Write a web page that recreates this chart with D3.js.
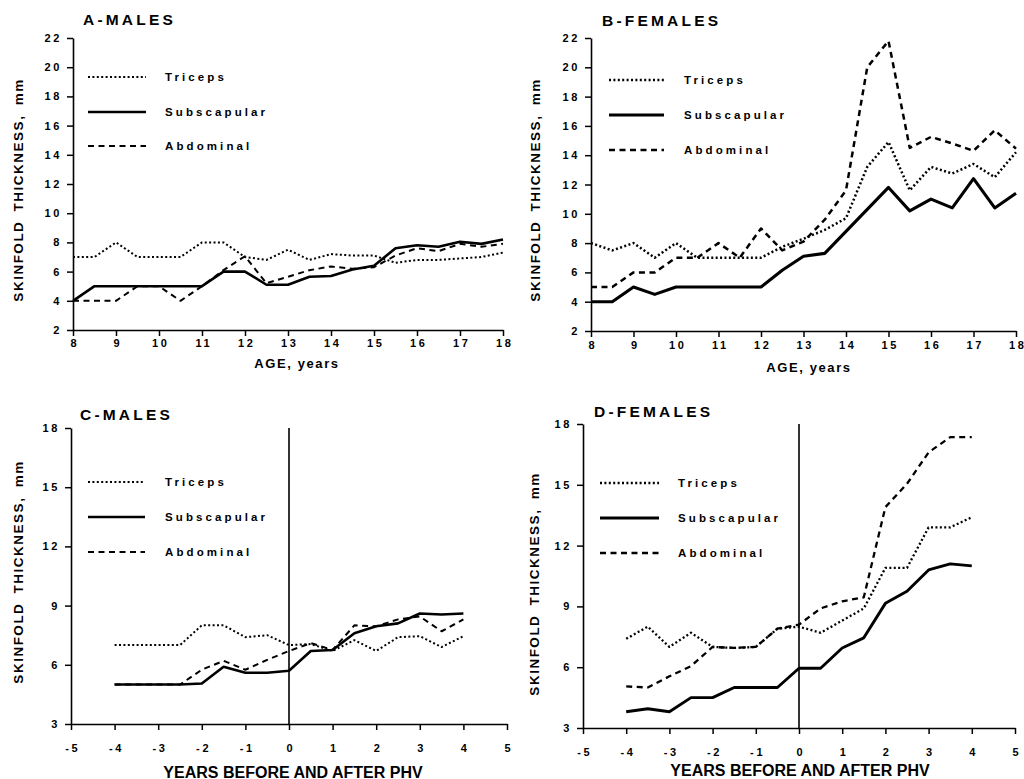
<!DOCTYPE html>
<html>
<head>
<meta charset="utf-8">
<script src="https://cdn.jsdelivr.net/npm/d3@7"></script>
<style>
  body { margin: 0; background: #fff; }
  svg { display: block; font-family: "Liberation Sans", Arial, sans-serif; font-weight: bold; }
</style>
</head>
<body>
<svg id="chart" width="1024" height="779"></svg>
<script>
// x positions (half-year steps)
const ageYears = [8, 8.5, 9, 9.5, 10, 10.5, 11, 11.5, 12, 12.5, 13, 13.5, 14, 14.5, 15, 15.5, 16, 16.5, 17, 17.5, 18];
const phvYears = [-4, -3.5, -3, -2.5, -2, -1.5, -1, -0.5, 0, 0.5, 1, 1.5, 2, 2.5, 3, 3.5, 4];

// A - males by age
const maleAgeTriceps   = [7, 7, 8, 7, 7, 7, 8, 8, 7, 6.8, 7.5, 6.8, 7.2, 7.1, 7.1, 6.6, 6.8, 6.8, 6.9, 7.0, 7.3];
const maleAgeSubscap   = [4, 5, 5, 5, 5, 5, 5, 6, 6, 5.1, 5.1, 5.65, 5.7, 6.15, 6.4, 7.6, 7.8, 7.7, 8.05, 7.9, 8.2];
const maleAgeAbdominal = [4, 4, 4, 5, 5, 4, 5, 6.1, 7.05, 5.2, 5.65, 6.1, 6.35, 6.2, 6.3, 7.1, 7.6, 7.4, 7.9, 7.7, 7.9];

// B - females by age
const femaleAgeTriceps   = [8, 7.5, 8, 7, 8, 7, 7, 7, 7, 7.75, 8.3, 8.9, 9.7, 13.2, 14.9, 11.6, 13.2, 12.75, 13.4, 12.5, 14.2];
const femaleAgeSubscap   = [4, 4, 5, 4.5, 5, 5, 5, 5, 5, 6.15, 7.1, 7.3, 8.8, 10.3, 11.8, 10.2, 11, 10.4, 12.4, 10.4, 11.4];
const femaleAgeAbdominal = [5, 5, 6, 6, 7, 7, 8, 7, 9, 7.5, 8.1, 9.6, 11.6, 20, 21.8, 14.5, 15.25, 14.8, 14.3, 15.7, 14.45];

// C - males by years from PHV
const malePhvTriceps   = [7, 7, 7, 7, 8, 8, 7.4, 7.5, 7.0, 7.05, 6.7, 7.25, 6.7, 7.4, 7.45, 6.9, 7.45];
const malePhvSubscap   = [5, 5, 5, 5, 5.05, 5.9, 5.6, 5.6, 5.7, 6.7, 6.75, 7.6, 7.95, 8.1, 8.6, 8.55, 8.6];
const malePhvAbdominal = [5, 5, 5, 5, 5.75, 6.2, 5.75, 6.25, 6.7, 7.1, 6.75, 8.0, 7.95, 8.3, 8.45, 7.7, 8.3];

// D - females by years from PHV
const femalePhvTriceps   = [7.4, 8.0, 7.0, 7.7, 7.0, 6.95, 7.0, 7.9, 8.0, 7.7, 8.3, 8.9, 10.9, 10.9, 12.9, 12.9, 13.4];
const femalePhvSubscap   = [3.8, 3.95, 3.8, 4.5, 4.5, 5, 5, 5, 5.95, 5.95, 6.95, 7.45, 9.15, 9.75, 10.8, 11.1, 11.0];
const femalePhvAbdominal = [5.05, 5.0, 5.55, 6.05, 7.0, 6.95, 7.0, 7.9, 8.1, 8.9, 9.25, 9.45, 13.9, 15.05, 16.6, 17.35, 17.35];

// tick labels
const ageXTicks = [8, 9, 10, 11, 12, 13, 14, 15, 16, 17, 18];
const ageYTicks = [2, 4, 6, 8, 10, 12, 14, 16, 18, 20, 22];
const phvXTicks = [-5, -4, -3, -2, -1, 0, 1, 2, 3, 4, 5];
const phvYTicks = [3, 6, 9, 12, 15, 18];

const seriesNames = ["Triceps", "Subscapular", "Abdominal"];
const yTitle = "SKINFOLD THICKNESS, mm";

const svg = d3.select("#chart");

const styles = {
    "Triceps":     {dash: "2,2.4", width: 2},
    "Subscapular": {dash: null, width: 2.6},
    "Abdominal":   {dash: "6,4.5", width: 2}
};

const panels = [
    {title: "A-MALES", x: ageYears, xDomain: [8, 18], yDomain: [2, 22], xRange: [73, 503], yRange: [330, 38],
     xTicks: ageXTicks, yTicks: ageYTicks, xLabel: "AGE,  years", xLabelSize: 13,
     series: [maleAgeTriceps, maleAgeSubscap, maleAgeAbdominal],
     titlePos: [83, 25], xTickY: 13, xLabelPos: [297, 368], yLabelPos: [23, 190],
     legend: {x1: 88, x2: 146, tx: 165, ys: [77, 112, 146]}, boost: 0},
    {title: "B-FEMALES", x: ageYears, xDomain: [8, 18], yDomain: [2, 22], xRange: [591, 1016], yRange: [331, 38],
     xTicks: ageXTicks, yTicks: ageYTicks, xLabel: "AGE,  years", xLabelSize: 13,
     series: [femaleAgeTriceps, femaleAgeSubscap, femaleAgeAbdominal],
     titlePos: [602, 26], xTickY: 14, xLabelPos: [809, 372], yLabelPos: [540, 190],
     legend: {x1: 609, x2: 664, tx: 684, ys: [80, 115, 150]}, boost: 0.5},
    {title: "C-MALES", x: phvYears, xDomain: [-5, 5], yDomain: [3, 18], xRange: [71, 507], yRange: [724, 428],
     xTicks: phvXTicks, yTicks: phvYTicks, xLabel: "YEARS BEFORE AND AFTER PHV", xLabelSize: 16,
     series: [malePhvTriceps, malePhvSubscap, malePhvAbdominal], phvLine: true,
     titlePos: [80, 420], xTickY: 24, xLabelPos: [293, 778], yLabelPos: [23, 572],
     legend: {x1: 88, x2: 145, tx: 165, ys: [482, 517, 552]}, boost: 0},
    {title: "D-FEMALES", x: phvYears, xDomain: [-5, 5], yDomain: [3, 18], xRange: [583, 1015], yRange: [728, 424],
     xTicks: phvXTicks, yTicks: phvYTicks, xLabel: "YEARS BEFORE AND AFTER PHV", xLabelSize: 16,
     series: [femalePhvTriceps, femalePhvSubscap, femalePhvAbdominal], phvLine: true,
     titlePos: [594, 417], xTickY: 24, xLabelPos: [800, 776], yLabelPos: [539, 584],
     legend: {x1: 600, x2: 659, tx: 678, ys: [483, 518, 553]}, boost: 0.3}
];

panels.forEach(function(p) {
    const x = d3.scaleLinear().domain(p.xDomain).range(p.xRange);
    const y = d3.scaleLinear().domain(p.yDomain).range(p.yRange);
    const g = svg.append("g");

    // axes (plain hyphen for negatives, like the original)
    const fmt = function(d) { return String(d); };
    const yAxis = d3.axisLeft(y).tickValues(p.yTicks).tickFormat(fmt)
        .tickSize(6).tickSizeOuter(0).tickPadding(5);
    const xAxis = d3.axisBottom(x).tickValues(p.xTicks).tickFormat(fmt)
        .tickSize(6).tickSizeOuter(0).tickPadding(p.xTickY - 10);

    const ya = g.append("g")
        .attr("transform", "translate(" + p.xRange[0] + ",0)")
        .call(yAxis);
    const xa = g.append("g")
        .attr("transform", "translate(0," + p.yRange[0] + ")")
        .call(xAxis);

    [ya, xa].forEach(function(a) {
        a.select(".domain").attr("stroke", "#000").attr("stroke-width", 1.6);
        a.selectAll(".tick line").attr("stroke", "#000").attr("stroke-width", 1.5);
        a.selectAll(".tick text")
            .attr("fill", "#000")
            .style("font-family", "'Liberation Sans', Arial, sans-serif")
            .style("font-weight", "bold")
            .style("font-size", "11px")
            .style("letter-spacing", "2.6px");
    });
    xa.selectAll(".tick text").attr("dx", "1.3px");

    // vertical line at PHV
    if (p.phvLine) {
        g.append("line")
            .attr("x1", x(0)).attr("x2", x(0))
            .attr("y1", y(p.yDomain[1])).attr("y2", y(p.yDomain[0]))
            .attr("stroke", "#000")
            .attr("stroke-width", 1.6);
    }

    // series lines
    const line = d3.line()
        .x(function(d) { return x(d[0]); })
        .y(function(d) { return y(d[1]); });

    p.series.forEach(function(vals, i) {
        const st = styles[seriesNames[i]];
        g.append("path")
            .datum(p.x.map(function(v, j) { return [v, vals[j]]; }))
            .attr("fill", "none")
            .attr("stroke", "#000")
            .attr("stroke-width", st.width + p.boost)
            .attr("stroke-dasharray", st.dash)
            .attr("stroke-linejoin", "round")
            .attr("d", line);
    });

    // legend
    const lg = g.append("g")
        .selectAll("g")
        .data(seriesNames)
        .enter().append("g");

    lg.append("line")
        .attr("x1", p.legend.x1)
        .attr("x2", p.legend.x2)
        .attr("y1", function(d, i) { return p.legend.ys[i]; })
        .attr("y2", function(d, i) { return p.legend.ys[i]; })
        .attr("stroke", "#000")
        .attr("stroke-width", function(d) { return styles[d].width + p.boost; })
        .attr("stroke-dasharray", function(d) { return styles[d].dash; });

    lg.append("text")
        .attr("x", p.legend.tx)
        .attr("y", function(d, i) { return p.legend.ys[i] + 4; })
        .style("font-size", "11.5px")
        .style("letter-spacing", "3.1px")
        .text(function(d) { return d; });

    // title
    g.append("text")
        .attr("x", p.titlePos[0])
        .attr("y", p.titlePos[1])
        .style("font-size", "15.5px")
        .style("letter-spacing", "3.2px")
        .text(p.title);

    // x label
    g.append("text")
        .attr("x", p.xLabelPos[0])
        .attr("y", p.xLabelPos[1])
        .attr("text-anchor", "middle")
        .style("font-size", p.xLabelSize + "px")
        .style("letter-spacing", p.xLabelSize < 16 ? "1.6px" : "0px")
        .text(p.xLabel);

    // y label
    g.append("text")
        .attr("transform", "translate(" + p.yLabelPos[0] + "," + p.yLabelPos[1] + ") rotate(-90)")
        .attr("text-anchor", "middle")
        .style("font-size", "13.5px")
        .style("letter-spacing", "1.5px")
        .style("word-spacing", "4px")
        .text(yTitle);
});
</script>
</body>
</html>
